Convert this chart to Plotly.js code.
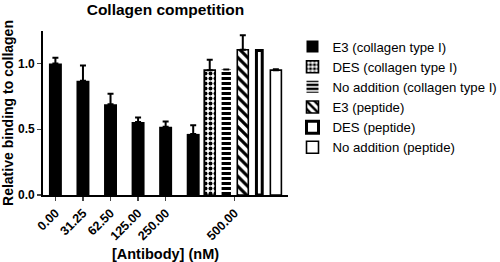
<!DOCTYPE html>
<html><head><meta charset="utf-8">
<script src="https://cdn.plot.ly/plotly-3.0.1.min.js"></script>
<style>html,body{margin:0;padding:0;background:#fff}#c{width:500px;height:262px}</style>
</head><body><div id="c"></div>
<script>
// ---- data ----
const doses = ['0.00', '31.25', '62.50', '125.00', '250.00', '500.00'];
const e3Collagen = [1.00, 0.87, 0.69, 0.555, 0.52, 0.465];
const e3CollagenErr = [0.045, 0.115, 0.08, 0.035, 0.04, 0.065];
const groupNames = ['DES (collagen type I)', 'No addition (collagen type I)', 'E3 (peptide)', 'DES (peptide)', 'No addition (peptide)'];
const groupValues = [0.95, 0.955, 1.105, 1.10, 0.95];
const groupErr = [0.08, 0, 0.11, 0, 0.007];

// ---- layout helpers ----
const F = 'Liberation Sans, Arial, sans-serif';
const groupCenter = 6.5, groupStep = 0.6;
const doseX = doses.map((d, i) => i < doses.length - 1 ? i : groupCenter);
const slot = k => groupCenter + (k - 2.5) * groupStep;
const e3X = doseX.map((x, i) => i < doses.length - 1 ? x : slot(0));

const styles = [
  {w: 0.40, color: '#fff', line: 1.6, pattern: {shape: '.', size: 5, solidity: 0.5, fgcolor: '#000', bgcolor: '#fff', fillmode: 'replace'}},
  {w: 0.34, color: '#fff', line: 0, pattern: {shape: '-', size: 5, solidity: 0.6, fgcolor: '#000', bgcolor: '#fff', fillmode: 'replace'}},
  {w: 0.40, color: '#fff', line: 1.6, pattern: {shape: '\\', size: 7, solidity: 0.45, fgcolor: '#000', bgcolor: '#fff', fillmode: 'replace'}},
  {w: 0.21, color: '#fff', line: 3, pattern: {shape: ''}},
  {w: 0.40, color: '#fff', line: 1.6, pattern: {shape: ''}}
];

const errStyle = (arr) => ({type: 'data', symmetric: false, array: arr, arrayminus: arr.map(() => 0),
  color: '#000', thickness: 2, width: 3, visible: true});

const traces = [{
  type: 'bar', name: 'E3 (collagen type I)', x: e3X, y: e3Collagen, width: 0.47,
  marker: {color: '#000', line: {color: '#000', width: 0}},
  error_y: errStyle(e3CollagenErr)
}];
groupNames.forEach((n, k) => {
  const s = styles[k];
  traces.push({
    type: 'bar', name: n, x: [slot(k + 1)], y: [groupValues[k]], width: s.w,
    marker: {color: s.color, line: {color: '#000', width: s.line}, pattern: s.pattern},
    error_y: errStyle([groupErr[k]])
  });
});

const layout = {
  width: 500, height: 262,
  margin: {l: 43, r: 212, t: 31, b: 67, pad: 0},
  paper_bgcolor: '#fff', plot_bgcolor: '#fff',
  barmode: 'overlay', showlegend: true,
  font: {family: F, color: '#000'},
  title: {text: '<b>Collagen competition</b>', font: {size: 15.5, family: F, color: '#000'},
    x: 0.5, xref: 'paper', xanchor: 'center', y: 0.985, yref: 'container', yanchor: 'top'},
  xaxis: {
    range: [-0.45, 8.44], tickvals: doseX, ticktext: doses.map(d => '<b>' + d + '</b>'),
    tickangle: -45, tickfont: {size: 12.5, family: F}, ticks: 'outside', ticklen: 4, tickwidth: 1.5,
    showline: true, linecolor: '#000', linewidth: 1.8, showgrid: false, zeroline: false,
    title: {text: '<b>[Antibody] (nM)</b>', font: {size: 14.5, family: F}, standoff: 9}
  },
  yaxis: {
    range: [0, 1.248], tickvals: [0, 0.5, 1.0], ticktext: ['<b>0.0</b>', '<b>0.5</b>', '<b>1.0</b>'],
    tickfont: {size: 12, family: F}, ticks: 'outside', ticklen: 4, tickwidth: 1.5,
    showline: true, linecolor: '#000', linewidth: 1.8, showgrid: false, zeroline: false,
    title: {text: '<b>Relative binding to collagen</b>', font: {size: 14, family: F}, standoff: 3}
  },
  legend: {x: 0.585, xref: 'container', xanchor: 'left', y: 0.88, yref: 'container', yanchor: 'top',
    font: {size: 13.2, family: F}, bgcolor: 'rgba(0,0,0,0)', tracegroupgap: 0, itemwidth: 30,
    traceorder: 'normal'}
};

Plotly.newPlot('c', traces, layout, {displayModeBar: false, staticPlot: true});
</script></body></html>
